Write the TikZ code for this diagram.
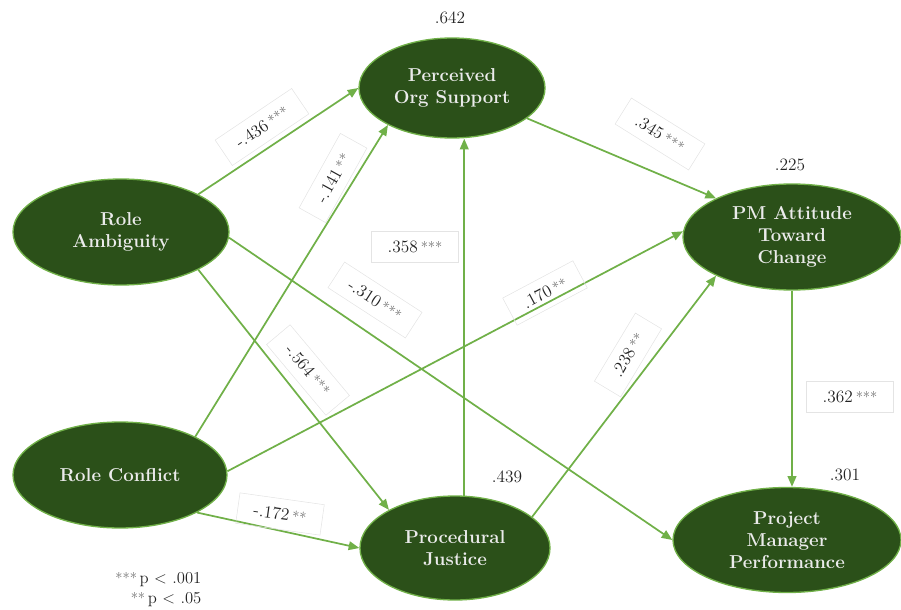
\documentclass[tikz,border=0pt]{standalone}
\usetikzlibrary{shapes.geometric,arrows.meta}
\definecolor{nodegreen}{RGB}{43,80,25}
\definecolor{linegreen}{RGB}{112,176,72}
\definecolor{labtext}{RGB}{35,35,35}
\definecolor{stargray}{RGB}{100,100,100}
\definecolor{boxgray}{RGB}{228,228,228}
\newcommand{\coefstar}[2]{#1\,{\color{stargray}\fontsize{11}{11}\selectfont #2}}
\begin{document}
\begin{tikzpicture}[x=0.75pt,y=-0.75pt,
  construct/.style={ellipse, draw=linegreen, line width=1pt, fill=nodegreen,
    text=white!92!black, font=\bfseries\fontsize{14}{16.5}\selectfont,
    align=center, inner sep=0pt},
  conn/.style={draw=linegreen, line width=1.3pt,
    -{Triangle[length=8pt,width=6.5pt]}},
  coefbox/.style={draw=boxgray, line width=0.4pt, text=labtext,
    font=\fontsize{13}{15}\selectfont, inner xsep=12pt, inner ysep=7pt},
  rsq/.style={text=labtext, font=\fontsize{13}{15}\selectfont, inner sep=1pt},
  legend/.style={text=labtext, font=\fontsize{12.5}{14}\selectfont, inner sep=1pt, anchor=east}]
\useasboundingbox (0,0) rectangle (901,610);

% constructs
\node[construct, minimum width=139.5pt, minimum height=75pt] (pos) at (452,88) {Perceived\\Org Support};
\node[construct, minimum width=162pt, minimum height=79.5pt] (ra) at (121,232) {Role\\Ambiguity};
\node[construct, minimum width=160.5pt, minimum height=79.5pt] (rc) at (120,475) {Role Conflict};
\node[construct, minimum width=142.5pt, minimum height=78pt] (pj) at (455,548) {Procedural\\Justice};
\node[construct, minimum width=163.5pt, minimum height=79.5pt] (pma) at (792,237) {PM Attitude\\Toward\\Change};
\node[construct, minimum width=171pt, minimum height=78.75pt] (pmp) at (787,540) {Project\\Manager\\Performance};

% paths
\draw[conn] (ra.26) -- (pos.180);
\draw[conn] (rc.27) -- (pos.210);
\draw[conn] (ra.-26) -- (pj.150);
\draw[conn] (ra.-3) -- (pmp.180);
\draw[conn] (rc.2) -- (pma.177);
\draw[conn] (rc.-26) -- (pj.180);
\draw[conn] (pj.80) -- (pj.80 |- pos.south);
\draw[conn] (pos.-22) -- (pma.153);
\draw[conn] (pj.22) -- (pma.207);
\draw[conn] (pma.south) -- (pma.south |- pmp.north);

% coefficients
\node[coefbox, rotate=34] (c1) at (262,127) {\coefstar{-.436}{***}};
\node[coefbox, rotate=61] (c2) at (333,178) {\coefstar{-.141}{**}};
\node[coefbox] (c3) at (415,247) {\coefstar{.358}{***}};
\node[coefbox, rotate=-33] (c4) at (375,300) {\coefstar{-.310}{***}};
\node[coefbox, rotate=28] (c5) at (545,293) {\coefstar{.170}{**}};
\node[coefbox, rotate=-50] (c6) at (308,370) {\coefstar{-.564}{***}};
\node[coefbox, rotate=59] (c7) at (628,355) {\coefstar{.238}{**}};
\node[coefbox, rotate=-32] (c8) at (660,134) {\coefstar{.345}{***}};
\node[coefbox] (c9) at (850,397) {\coefstar{.362}{***}};
\node[coefbox, rotate=-8] (c10) at (280,514) {\coefstar{-.172}{**}};

% R squared
\node[rsq] (r1) at (450,18) {.642};
\node[rsq] (r2) at (790,165) {.225};
\node[rsq] (r3) at (507,477) {.439};
\node[rsq] (r4) at (845,475) {.301};

% legend
\node[legend] (l1) at (203,580) {{\color{stargray}\fontsize{11}{11}\selectfont ***}\,p < .001};
\node[legend] (l2) at (203,600) {{\color{stargray}\fontsize{11}{11}\selectfont **}\,p < .05};
\end{tikzpicture}
\end{document}
